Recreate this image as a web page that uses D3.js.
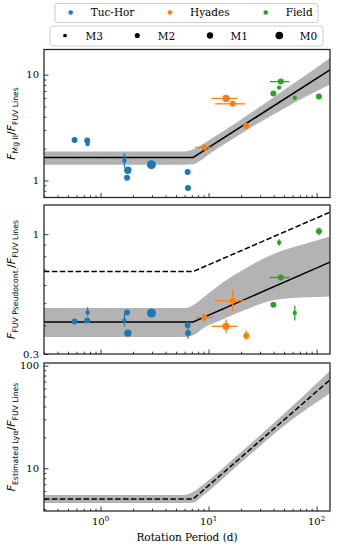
<!DOCTYPE html>
<html>
<head>
<meta charset="utf-8">
<script src="https://cdn.jsdelivr.net/npm/d3@7"></script>
<style>
body { margin: 0; background: white; }
</style>
</head>
<body>
<script>
// data
const groups = ['Tuc-Hor', 'Hyades', 'Field']
const group_colors = ['#1f77b4', '#ff7f0e', '#2ca02c']
const spectral_types = ['M3', 'M2', 'M1', 'M0']

const star_group = ['Tuc-Hor','Tuc-Hor','Tuc-Hor','Tuc-Hor','Tuc-Hor','Tuc-Hor','Tuc-Hor','Tuc-Hor','Tuc-Hor',
                    'Hyades','Hyades','Hyades','Hyades',
                    'Field','Field','Field','Field','Field']
const star_type = ['M2','M2','M3','M3','M1','M2','M0','M2','M2',
                   'M2','M1','M2','M2',
                   'M2','M3','M2','M3','M2']
const star_period = [0.575, 0.754, 0.76, 1.665, 1.79, 1.76, 2.96, 6.4, 6.45,
                     9.13, 14.5, 16.7, 22.3,
                     39.8, 45, 46.6, 62.8, 105]
const star_period_lo = [null,null,null,null,null,null,null,null,null,
                        7.5, 10.6, 11.5, null,
                        null, null, 37, null, null]
const star_period_hi = [null,null,null,null,null,null,null,null,null,
                        11.1, 18.5, 21.8, null,
                        null, null, 56, null, null]

const mg_ratio = [2.41, 2.39, 2.21, 1.54, 1.25, 1.06, 1.41, 1.2, 0.847,
                  2.05, 5.96, 5.3, 3.28,
                  6.64, 7.55, 8.6, 6.04, 6.22]
const mg_lo = [null, null, 2.14, 1.32, null, null, null, null, null,
               null, null, null, null,
               null, null, null, 5.75, null]
const mg_hi = [null, null, 2.29, 1.82, null, null, null, null, null,
               null, null, null, null,
               null, null, null, 6.32, null]

const pc_ratio = [0.416, 0.42, 0.455, 0.42, 0.37, 0.455, 0.453, 0.40, 0.37,
                  0.433, 0.396, 0.512, 0.36,
                  0.492, 0.919, 0.647, 0.453, 1.03]
const pc_lo = [null, null, 0.44, 0.395, null, null, null, 0.385, 0.35,
               0.415, 0.37, 0.46, 0.345,
               null, 0.89, null, 0.42, 0.99]
const pc_hi = [null, null, 0.48, 0.45, null, null, null, 0.415, 0.385,
               0.45, 0.425, 0.573, 0.38,
               null, 0.95, null, 0.487, 1.07]

// fits and confidence bands
const fit_period = [0.3, 7.2, 133]
const mg_fit = [1.65, 1.65, 11.1]
const pc_fit = [0.414, 0.414, 0.755]
const pc_dashed = [0.687, 0.687, 1.247]
const lya_fit = [5.02, 5.02, 72.6]

const mg_band_period = [0.3, 6, 7.2, 8.5, 10, 20, 50, 133]
const mg_band_lo = [1.41, 1.41, 1.42, 1.55, 1.76, 2.77, 4.8, 8.06]
const mg_band_hi = [1.88, 1.88, 1.97, 2.15, 2.38, 3.77, 7.15, 14.4]

const pc_band_period = [0.3, 6, 7.2, 9, 12, 20, 40, 80, 133]
const pc_band_lo = [0.356, 0.356, 0.362, 0.39, 0.415, 0.46, 0.515, 0.53, 0.535]
const pc_band_hi = [0.476, 0.476, 0.49, 0.53, 0.59, 0.69, 0.82, 0.91, 0.976]

const lya_band_period = [0.3, 6, 7.2, 9, 20, 50, 133]
const lya_band_lo = [4.6, 4.6, 4.62, 5.5, 11.4, 26, 53.8]
const lya_band_hi = [5.5, 5.5, 5.9, 7.0, 14.4, 34, 89]

// axes
const x_domain = [0.3, 133]
const x_major_ticks = [1, 10, 100]
const x_tick_exponents = ['0', '1', '2']
const y_domains = [[0.69, 17.3], [0.3, 1.34], [3.84, 106]]
const y_major_ticks = [[1, 10], [0.3, 1], [10, 100]]
const y_label_subs = [['Mg II', 'FUV Lines'], ['FUV Pseudocont.', 'FUV Lines'], ['Estimated Lyα', 'FUV Lines']]
const x_title = 'Rotation Period (d)'

// layout
const plot_left = 44
const plot_right = 330
const panel_rows = [[49.5, 197.5], [205, 354], [363, 511]]
const serif = "'DejaVu Serif', serif"
const sans = "'DejaVu Sans', sans-serif"
const frame_color = '#222'
const band_color = '#b3b3b3'

const color = d3.scaleOrdinal().domain(groups).range(group_colors)
const radius = d3.scaleOrdinal().domain(spectral_types).range([2.2, 3, 3.7, 4.5])
const x = d3.scaleLog().domain(x_domain).range([plot_left, plot_right])

const svg = d3.select('body').append('svg')
    .attr('width', 340)
    .attr('height', 550)

function get_y(i) {
    return d3.scaleLog().domain(y_domains[i]).range([panel_rows[i][1], panel_rows[i][0]])
}

function draw_band(g, y, period, lo, hi) {
    const area = d3.area()
        .x((_, k) => x(period[k]))
        .y0((_, k) => y(lo[k]))
        .y1((_, k) => y(hi[k]))
        .curve(d3.curveMonotoneX)
    g.append('path')
        .attr('d', area(period))
        .attr('fill', band_color)
}

function draw_fit(g, y, values, dashed) {
    const line = d3.line()
        .x((_, k) => x(fit_period[k]))
        .y((_, k) => y(values[k]))
    g.append('path')
        .attr('d', line(fit_period))
        .attr('fill', 'none')
        .attr('stroke', 'black')
        .attr('stroke-width', 1.5)
        .attr('stroke-dasharray', dashed ? '5.5,2.4' : null)
}

function draw_stars(g, y, values, lo, hi) {
    const idx = d3.range(star_period.length)
    // x errorbars
    g.selectAll('.xerr')
        .data(idx.filter(k => star_period_lo[k] != null))
        .enter()
        .append('line')
        .attr('x1', k => x(star_period_lo[k]))
        .attr('x2', k => x(star_period_hi[k]))
        .attr('y1', k => y(values[k]))
        .attr('y2', k => y(values[k]))
        .attr('stroke', k => color(star_group[k]))
        .attr('stroke-width', 1.3)
    // y errorbars
    g.selectAll('.yerr')
        .data(idx.filter(k => lo[k] != null))
        .enter()
        .append('line')
        .attr('x1', k => x(star_period[k]))
        .attr('x2', k => x(star_period[k]))
        .attr('y1', k => y(lo[k]))
        .attr('y2', k => y(hi[k]))
        .attr('stroke', k => color(star_group[k]))
        .attr('stroke-width', 1.3)
    g.selectAll('circle')
        .data(idx)
        .enter()
        .append('circle')
        .attr('cx', k => x(star_period[k]))
        .attr('cy', k => y(values[k]))
        .attr('r', k => radius(star_type[k]))
        .attr('fill', k => color(star_group[k]))
}

function draw_axes(i, y) {
    const [top, bottom] = panel_rows[i]
    const g = svg.append('g')

    // y ticks, inward
    const y_minor = y.ticks().filter(v => !y_major_ticks[i].includes(v))
    g.append('g')
        .attr('transform', `translate(${plot_left},0)`)
        .call(d3.axisLeft(y).tickValues(y_minor).tickSizeInner(-2.3).tickSizeOuter(0).tickFormat(''))
    g.append('g')
        .attr('transform', `translate(${plot_left},0)`)
        .call(d3.axisLeft(y).tickValues(y_major_ticks[i]).tickSizeInner(-4.5).tickSizeOuter(0)
            .tickPadding(5).tickFormat(d3.format('~g')))

    // x ticks, inward
    const x_minor = x.ticks().filter(v => !x_major_ticks.includes(v))
    g.append('g')
        .attr('transform', `translate(0,${bottom})`)
        .call(d3.axisBottom(x).tickValues(x_minor).tickSizeInner(-2.3).tickSizeOuter(0).tickFormat(''))
    g.append('g')
        .attr('transform', `translate(0,${bottom})`)
        .call(d3.axisBottom(x).tickValues(x_major_ticks).tickSizeInner(-4.5).tickSizeOuter(0).tickFormat(''))

    g.selectAll('.domain').remove()
    g.selectAll('.tick line').attr('stroke', frame_color).attr('stroke-width', 0.9)
    g.selectAll('.tick text')
        .style('font-family', serif)
        .style('font-size', '10px')
        .attr('fill', 'black')

    g.append('rect')
        .attr('x', plot_left)
        .attr('y', top)
        .attr('width', plot_right - plot_left)
        .attr('height', bottom - top)
        .attr('fill', 'none')
        .attr('stroke', frame_color)
        .attr('stroke-width', 1.25)

    // y label with subscripts
    const label = svg.append('text')
        .attr('transform', `translate(15,${(top + bottom) / 2}) rotate(-90)`)
        .attr('text-anchor', 'middle')
        .style('font-family', sans)
        .style('font-size', '11px')
    const [sub1, sub2] = y_label_subs[i]
    label.append('tspan').text('F').style('font-style', 'italic')
    label.append('tspan').text(sub1).style('font-size', '7.7px').attr('dy', 2.6)
    label.append('tspan').text('/').attr('dy', -2.6)
    label.append('tspan').text('F').style('font-style', 'italic')
    label.append('tspan').text(sub2).style('font-size', '7.7px').attr('dy', 2.6)
}

function draw_x_labels() {
    const bottom = panel_rows[2][1]
    x_major_ticks.forEach((v, k) => {
        const t = svg.append('text')
            .attr('x', x(v))
            .attr('y', bottom + 13.5)
            .attr('text-anchor', 'middle')
            .style('font-family', serif)
            .style('font-size', '10px')
        t.append('tspan').text('10')
        t.append('tspan').text(x_tick_exponents[k]).style('font-size', '7px').attr('dy', -4)
    })
    svg.append('text')
        .text(x_title)
        .attr('x', (plot_left + plot_right) / 2)
        .attr('y', bottom + 30)
        .attr('text-anchor', 'middle')
        .style('font-family', serif)
        .style('font-size', '10.5px')
}

function draw_legend() {
    const boxes = [[55, 3.5, 263, 19], [50, 26, 273, 20]]
    boxes.forEach(b => {
        svg.append('rect')
            .attr('x', b[0]).attr('y', b[1])
            .attr('width', b[2]).attr('height', b[3])
            .attr('rx', 2.5)
            .attr('fill', 'white')
            .attr('stroke', '#cccccc')
            .attr('stroke-width', 1)
    })
    const group_x = [70.7, 170, 265.7]
    groups.forEach((name, k) => {
        svg.append('circle')
            .attr('cx', group_x[k]).attr('cy', 12.5)
            .attr('r', 2.3)
            .attr('fill', color(name))
        svg.append('text')
            .text(name)
            .attr('x', group_x[k] + 20).attr('y', 16.3)
            .style('font-family', serif)
            .style('font-size', '10.5px')
    })
    const type_x = [65, 137.3, 210, 279.3]
    spectral_types.forEach((name, k) => {
        svg.append('circle')
            .attr('cx', type_x[k]).attr('cy', 35.5)
            .attr('r', radius(name) * 0.85)
            .attr('fill', 'black')
        svg.append('text')
            .text(name)
            .attr('x', type_x[k] + 20.5).attr('y', 39.5)
            .style('font-family', serif)
            .style('font-size', '10.5px')
    })
}

function main() {
    const y1 = get_y(0)
    const g1 = svg.append('g')
    draw_band(g1, y1, mg_band_period, mg_band_lo, mg_band_hi)
    draw_fit(g1, y1, mg_fit, false)
    draw_stars(g1, y1, mg_ratio, mg_lo, mg_hi)
    draw_axes(0, y1)

    const y2 = get_y(1)
    const g2 = svg.append('g')
    draw_band(g2, y2, pc_band_period, pc_band_lo, pc_band_hi)
    draw_fit(g2, y2, pc_fit, false)
    draw_fit(g2, y2, pc_dashed, true)
    draw_stars(g2, y2, pc_ratio, pc_lo, pc_hi)
    draw_axes(1, y2)

    const y3 = get_y(2)
    const g3 = svg.append('g')
    draw_band(g3, y3, lya_band_period, lya_band_lo, lya_band_hi)
    draw_fit(g3, y3, lya_fit, true)
    draw_axes(2, y3)

    draw_x_labels()
    draw_legend()
}

main()
</script>
</body>
</html>
